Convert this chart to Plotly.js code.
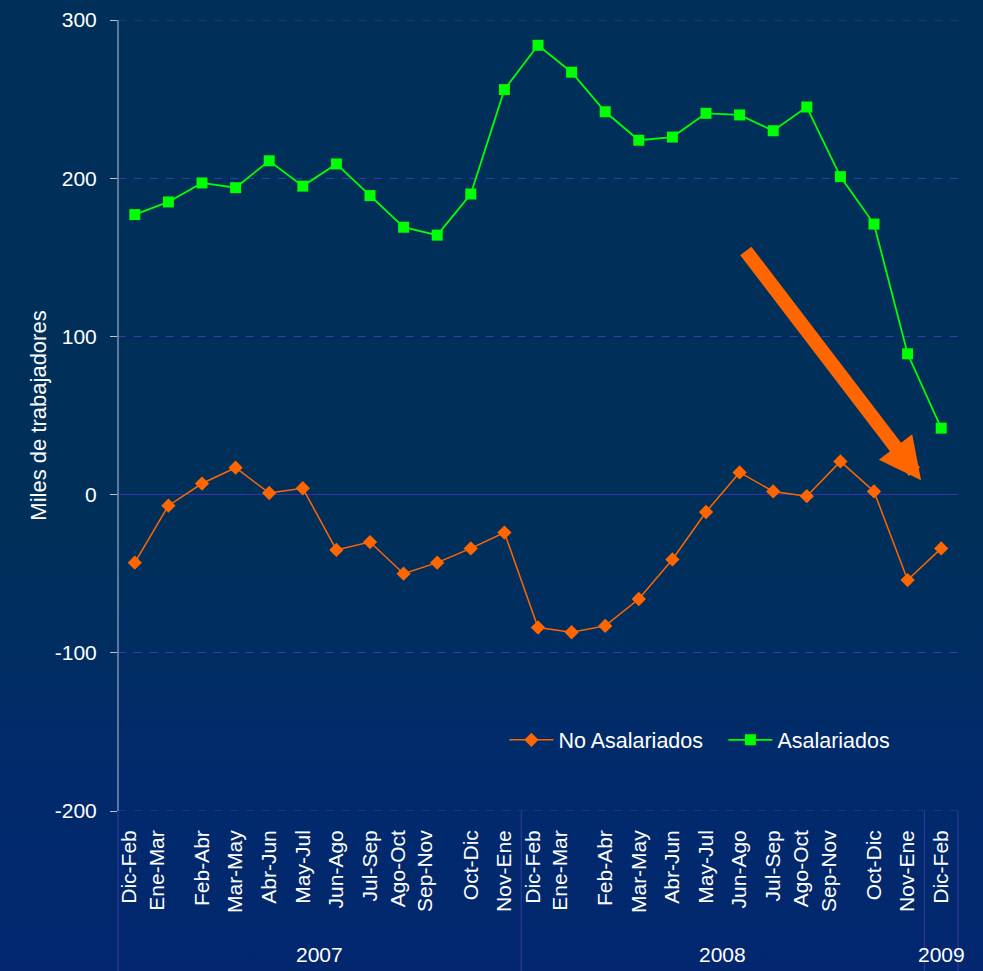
<!DOCTYPE html>
<html>
<head>
<meta charset="utf-8">
<script src="https://cdn.plot.ly/plotly-3.0.1.min.js"></script>
<style>
  html, body { margin: 0; padding: 0; }
  #chart {
    width: 983px; height: 971px;
    background: linear-gradient(180deg, #00305a 0%, #00305a 55%, #012a6c 80%, #02276f 100%);
  }
</style>
</head>
<body>
<div id="chart"></div>
<script>
// ---- data ----
const periods = [
  "Dic-Feb","Ene-Mar","Feb-Abr","Mar-May","Abr-Jun","May-Jul","Jun-Ago","Jul-Sep","Ago-Oct","Sep-Nov","Oct-Dic","Nov-Ene",
  "Dic-Feb","Ene-Mar","Feb-Abr","Mar-May","Abr-Jun","May-Jul","Jun-Ago","Jul-Sep","Ago-Oct","Sep-Nov","Oct-Dic","Nov-Ene",
  "Dic-Feb"
];
const years = [
  "2007","2007","2007","2007","2007","2007","2007","2007","2007","2007","2007","2007",
  "2008","2008","2008","2008","2008","2008","2008","2008","2008","2008","2008","2008",
  "2009"
];
const noAsalariados = [-43,-7,7,17,1,4,-35,-30,-50,-43,-34,-24,-84,-87,-83,-66,-41,-11,14,2,-1,21,2,-54,-34];
const asalariados   = [177,185,197,194,211,195,209,189,169,164,190,256,284,267,242,224,226,241,240,230,245,201,171,89,42];
const yTickVals = [-200,-100,0,100,200,300];
const yTickText = ["-200","-100","0","100","200","300"];
// label pairs that the original chart printed together as one two-line label
const pairedLabels = [0, 8, 12, 20];

// ---- build ----
const idx = periods.map((_, i) => i);
const tickvals = [], ticktext = [];
for (let i = 0; i < periods.length; i++) {
  if (pairedLabels.includes(i)) {
    tickvals.push(i + 0.25);
    ticktext.push(periods[i] + "<br>" + periods[i + 1]);
    i++;
  } else {
    tickvals.push(i);
    ticktext.push(periods[i]);
  }
}

const n = periods.length;
const frac = v => (v + 0.5) / n;   // x range is [-0.5, n-0.5]
const yMin = yTickVals[0], yMax = yTickVals[yTickVals.length - 1];

// year groups
const groups = [];
years.forEach((y, i) => {
  const g = groups[groups.length - 1];
  if (g && g.year === y) g.end = i; else groups.push({ year: y, start: i, end: i });
});

const font = "Liberation Sans, Arial, sans-serif";
const gridColor = "#3b3ba6";
const shapes = [];
const annotations = [];
const bounds = new Set([-0.5]);
groups.forEach(g => { bounds.add(g.start - 0.5); bounds.add(g.end + 0.5); });
bounds.forEach(b => {
  shapes.push({
    type: "line", xref: "paper", yref: "paper",
    x0: frac(b), x1: frac(b), y0: 0, y1: -0.21,
    line: { color: "#3a3a9e", width: 1 }, layer: "below"
  });
});
// dashed gridlines at the range edges (Plotly omits these)
[yMin, yMax].forEach(v => {
  shapes.push({
    type: "line", xref: "paper", yref: "y", x0: 0, x1: 1, y0: v, y1: v,
    line: { color: gridColor, width: 1, dash: "8px,8px" }, layer: "below"
  });
});
// y axis line
shapes.push({
  type: "line", xref: "paper", yref: "y", x0: 0, x1: 0, y0: yMin, y1: yMax,
  line: { color: "#b9c3d3", width: 1 }
});
groups.forEach(g => {
  annotations.push({
    xref: "paper", yref: "paper", x: frac((g.start + g.end) / 2), y: -0.182,
    text: g.year, showarrow: false, xanchor: "center", yanchor: "middle",
    font: { family: font, size: 21, color: "#ffffff" }
  });
});
// big orange trend arrow
annotations.push({
  xref: "x", yref: "y", axref: "x", ayref: "y",
  x: 23.4, y: 9, ax: 18.15, ay: 155,
  text: "", showarrow: true, arrowhead: 2, arrowsize: 0.6, arrowwidth: 14,
  arrowcolor: "#ff6600", standoff: 0
});

const traces = [
  {
    x: idx, y: noAsalariados, name: "No Asalariados", type: "scatter", mode: "lines+markers",
    line: { color: "#ff6600", width: 1.5 },
    marker: { symbol: "diamond", size: 11, color: "#ff6600" }
  },
  {
    x: idx, y: asalariados, name: "Asalariados", type: "scatter", mode: "lines+markers",
    line: { color: "#00ff00", width: 1.8 },
    marker: { symbol: "square", size: 11, color: "#00ff00" }
  }
];

const layout = {
  width: 983, height: 971,
  margin: { l: 118, r: 25, t: 20, b: 160 },
  paper_bgcolor: "rgba(0,0,0,0)",
  plot_bgcolor: "rgba(0,0,0,0)",
  font: { family: font, size: 21, color: "#ffffff" },
  showlegend: true,
  legend: {
    orientation: "h", x: 0.46, y: 0.09, xanchor: "left", yanchor: "middle",
    bgcolor: "rgba(0,0,0,0)", font: { family: font, size: 21.5, color: "#ffffff" },
    itemwidth: 44, tracegroupgap: 0, entrywidth: 160
  },
  xaxis: {
    range: [-0.5, n - 0.5], showgrid: false, zeroline: false, showline: false,
    tickmode: "array", tickvals: tickvals, ticktext: ticktext, tickangle: -90,
    ticks: "", ticklabelstandoff: 14,
    tickfont: { family: font, size: 21, color: "#ffffff" }
  },
  yaxis: {
    range: [yMin, yMax], tickmode: "array", tickvals: yTickVals, ticktext: yTickText,
    showgrid: true, gridcolor: gridColor, gridwidth: 1, griddash: "8px,8px",
    zeroline: true, zerolinecolor: "#3a32a6", zerolinewidth: 1.5,
    showline: false,
    ticks: "outside", ticklen: 7, tickcolor: "#b9c3d3",
    ticklabelstandoff: 9,
    tickfont: { family: font, size: 21, color: "#ffffff" },
    title: { text: "Miles de trabajadores", font: { family: font, size: 22, color: "#ffffff" }, standoff: 2 }
  },
  shapes: shapes,
  annotations: annotations
};

Plotly.newPlot("chart", traces, layout, { displayModeBar: false, staticPlot: true });
</script>
</body>
</html>
